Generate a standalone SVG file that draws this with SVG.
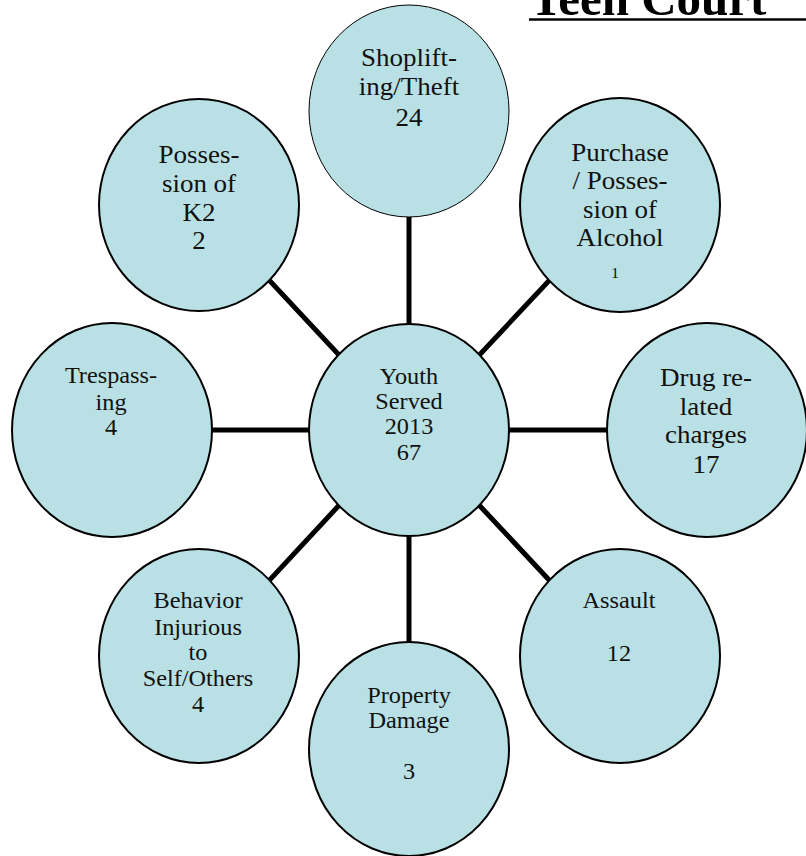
<svg xmlns="http://www.w3.org/2000/svg" width="806" height="856" viewBox="0 0 806 856">
<style>
.bg{fill:#ffffff}
.node ellipse{fill:#B9E0E4;stroke:#000;stroke-width:2}
.node.thin ellipse{stroke-width:1}
.node text{font-family:"Liberation Serif","Times New Roman",serif;fill:#111;text-anchor:middle}
.big text{font-size:25px}
.mid text{font-size:22.5px}
.conn line{stroke:#000;stroke-width:5}
.title{font-family:"Liberation Serif","Times New Roman",serif;font-weight:bold;font-size:49px;fill:#000}
</style>
<rect class="bg" x="0" y="0" width="806" height="856"/>
<g id="title">
<text class="title" x="530" y="15">Teen Court</text>
<line x1="529" y1="19.5" x2="806" y2="19.5" stroke="#000" stroke-width="2.6"/>
</g>
<g id="connectors" class="conn">
<line x1="409" y1="430" x2="409" y2="111"/>
<line x1="409" y1="430" x2="620" y2="205"/>
<line x1="409" y1="430" x2="707" y2="430"/>
<line x1="409" y1="430" x2="620" y2="656"/>
<line x1="409" y1="430" x2="409" y2="749"/>
<line x1="409" y1="430" x2="199" y2="656"/>
<line x1="409" y1="430" x2="112" y2="430"/>
<line x1="409" y1="430" x2="199" y2="205"/>
</g>
<g id="node-shoplifting" class="node big thin">
<ellipse cx="409" cy="111" rx="100" ry="106"/>
<text transform="translate(409 66) scale(1.08 1)">Shoplift-</text>
<text transform="translate(409 95) scale(1.08 1)">ing/Theft</text>
<text transform="translate(409 126) scale(1.08 1)">24</text>
</g>
<g id="node-alcohol" class="node big">
<ellipse cx="620" cy="205" rx="100" ry="107"/>
<text transform="translate(620 161) scale(1.08 1)">Purchase</text>
<text transform="translate(620 189) scale(1.08 1)">/ Posses-</text>
<text transform="translate(620 218) scale(1.08 1)">sion of</text>
<text transform="translate(620 246) scale(1.08 1)">Alcohol</text>
<text transform="translate(615 278) scale(1.08 1)" style="font-size:15px">1</text>
</g>
<g id="node-drug" class="node big">
<ellipse cx="707" cy="430" rx="100" ry="107"/>
<text transform="translate(706 386) scale(1.08 1)">Drug re-</text>
<text transform="translate(706 415) scale(1.08 1)">lated</text>
<text transform="translate(706 443) scale(1.08 1)">charges</text>
<text transform="translate(706 473) scale(1.08 1)">17</text>
</g>
<g id="node-assault" class="node mid">
<ellipse cx="620" cy="656" rx="100" ry="107"/>
<text transform="translate(619 608) scale(1.08 1)">Assault</text>
<text transform="translate(619 661) scale(1.08 1)">12</text>
</g>
<g id="node-property" class="node mid">
<ellipse cx="409" cy="749" rx="100" ry="107"/>
<text transform="translate(409 703) scale(1.08 1)">Property</text>
<text transform="translate(409 728) scale(1.08 1)">Damage</text>
<text transform="translate(409 779) scale(1.08 1)">3</text>
</g>
<g id="node-behavior" class="node mid">
<ellipse cx="199" cy="656" rx="100" ry="107"/>
<text transform="translate(198 608) scale(1.08 1)">Behavior</text>
<text transform="translate(198 635) scale(1.08 1)">Injurious</text>
<text transform="translate(198 660) scale(1.08 1)">to</text>
<text transform="translate(198 686) scale(1.08 1)">Self/Others</text>
<text transform="translate(198 712) scale(1.08 1)">4</text>
</g>
<g id="node-trespassing" class="node mid">
<ellipse cx="112" cy="430" rx="100" ry="107"/>
<text transform="translate(111 383) scale(1.08 1)">Trespass-</text>
<text transform="translate(111 410) scale(1.08 1)">ing</text>
<text transform="translate(111 435) scale(1.08 1)">4</text>
</g>
<g id="node-k2" class="node big">
<ellipse cx="199" cy="205" rx="100" ry="106"/>
<text transform="translate(199 163) scale(1.08 1)">Posses-</text>
<text transform="translate(199 192) scale(1.08 1)">sion of</text>
<text transform="translate(199 221) scale(1.08 1)">K2</text>
<text transform="translate(199 249) scale(1.08 1)">2</text>
</g>
<g id="node-center" class="node mid">
<ellipse cx="409" cy="430" rx="100" ry="106"/>
<text transform="translate(409 384) scale(1.08 1)">Youth</text>
<text transform="translate(409 409) scale(1.08 1)">Served</text>
<text transform="translate(409 434) scale(1.08 1)">2013</text>
<text transform="translate(409 460) scale(1.08 1)">67</text>
</g>
</svg>
